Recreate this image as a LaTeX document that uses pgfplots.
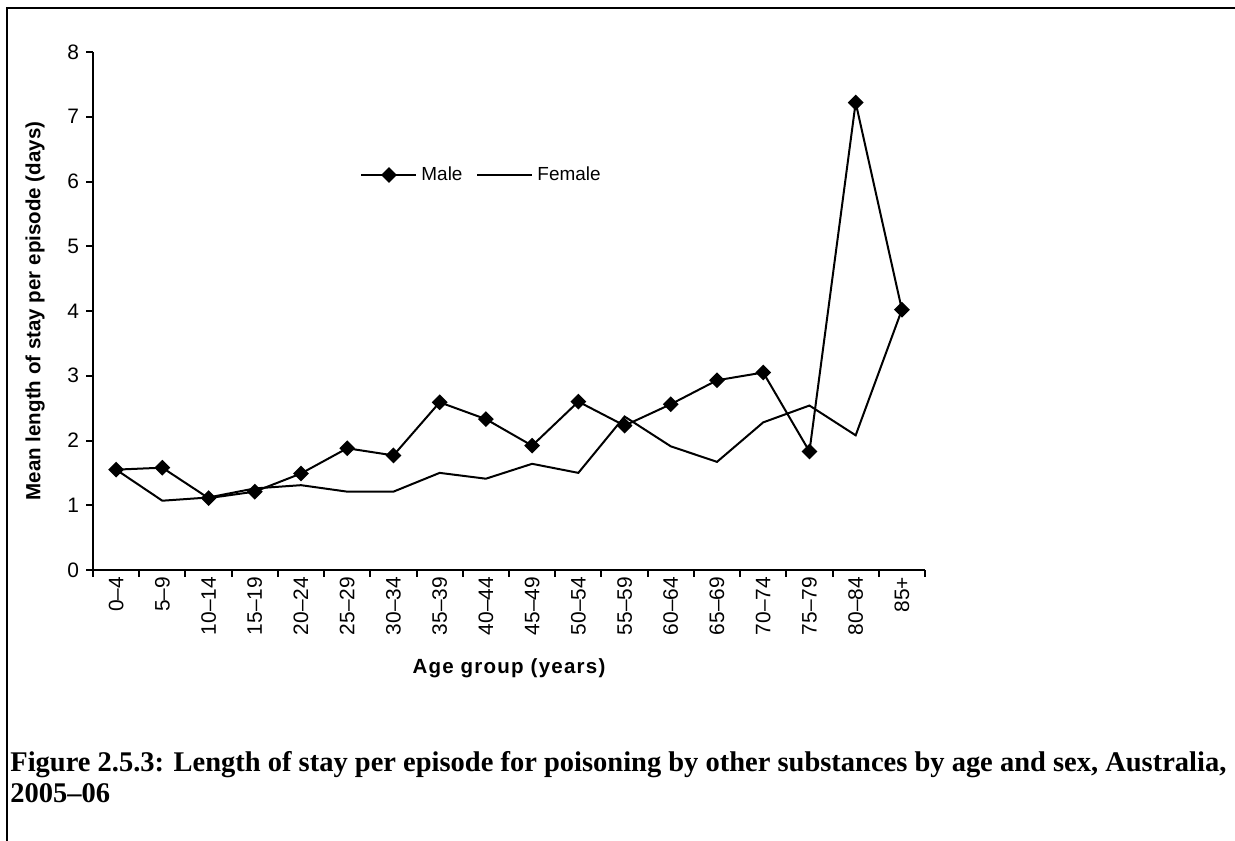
\documentclass[border=0pt]{standalone}
\usepackage{fontspec}
\setmainfont{Liberation Sans}
\newfontfamily\capfont{Liberation Serif}
\usepackage{pgfplots}
\pgfplotsset{compat=1.18}

\begin{document}
\begin{tikzpicture}
\useasboundingbox (0,0) rectangle (617.5bp,420.5bp);
% frame (left and top edges only show in the crop)
\draw[line width=1.25bp] (3.5bp,0) -- (3.5bp,416.5bp) -- (620bp,416.5bp);

\begin{axis}[%
at={(46.5bp,135.5bp)},
anchor=south west,
scale only axis,
width=416bp,
height=259bp,
xmin=-0.5, xmax=17.5,
ymin=0, ymax=8,
axis x line*=bottom,
axis y line*=left,
axis line style={line width=1bp},
tick style={line width=1bp, black},
tick align=outside,
major tick length=3.5bp,
xtick={-0.5,0.5,...,17.5},
xticklabels={},
extra x ticks={0,...,17},
extra x tick labels={0–4,5–9,10–14,15–19,20–24,25–29,30–34,35–39,40–44,45–49,50–54,55–59,60–64,65–69,70–74,75–79,80–84,85+},
extra x tick style={major tick length=0pt, tick label style={rotate=90, anchor=east, font=\fontsize{10.5}{12}\selectfont}},
ytick={0,1,...,8},
/pgf/number format/assume math mode=true,
tick label style={font=\fontsize{10.5}{12}\selectfont},
xlabel={\bfseries Age group (years)},
xlabel style={at={(axis description cs:0.5,-0.189)}, anchor=center, font=\fontsize{10.3}{12}\selectfont\addfontfeatures{LetterSpace=6}},
ylabel={\bfseries Mean length of stay per episode (days)},
ylabel style={at={(axis description cs:-0.0697,0.5)}, anchor=center, font=\fontsize{10.3}{12}\selectfont},
legend style={draw=none, fill=none, at={(axis description cs:0.321,0.7625)}, anchor=west,
  legend columns=2, font=\fontsize{9.5}{11}\selectfont, inner sep=0pt,
  /tikz/every even column/.append style={column sep=5bp}},
legend image code/.code={\draw[mark repeat=2,mark phase=2,#1] plot coordinates {(0bp,0bp) (13.75bp,0bp) (27.5bp,0bp)};},
]
\addplot [black, line width=1bp, mark=square*, mark size=2.3bp, mark options={rotate=45, solid}]
  coordinates {
  (0,1.55) (1,1.58) (2,1.11) (3,1.21) (4,1.49) (5,1.88) (6,1.77) (7,2.59) (8,2.33)
  (9,1.92) (10,2.60) (11,2.23) (12,2.56) (13,2.93) (14,3.05) (15,1.83) (16,7.22) (17,4.02)
  };
\addlegendentry{Male}
\addplot [black, line width=1bp]
  coordinates {
  (0,1.55) (1,1.07) (2,1.12) (3,1.26) (4,1.31) (5,1.21) (6,1.21) (7,1.50) (8,1.41)
  (9,1.64) (10,1.50) (11,2.37) (12,1.91) (13,1.67) (14,2.28) (15,2.54) (16,2.08) (17,4.02)
  };
\addlegendentry{Female}
\end{axis}

\node[anchor=base west, inner sep=0pt, font=\capfont\bfseries\fontsize{14.3}{17}\selectfont] at (5bp,35bp)
  {Figure 2.5.3: Length of stay per episode for poisoning by other substances by age and sex, Australia,};
\node[anchor=base west, inner sep=0pt, font=\capfont\bfseries\fontsize{14.3}{17}\selectfont] at (5bp,19.5bp)
  {2005–06};
\end{tikzpicture}
\end{document}
